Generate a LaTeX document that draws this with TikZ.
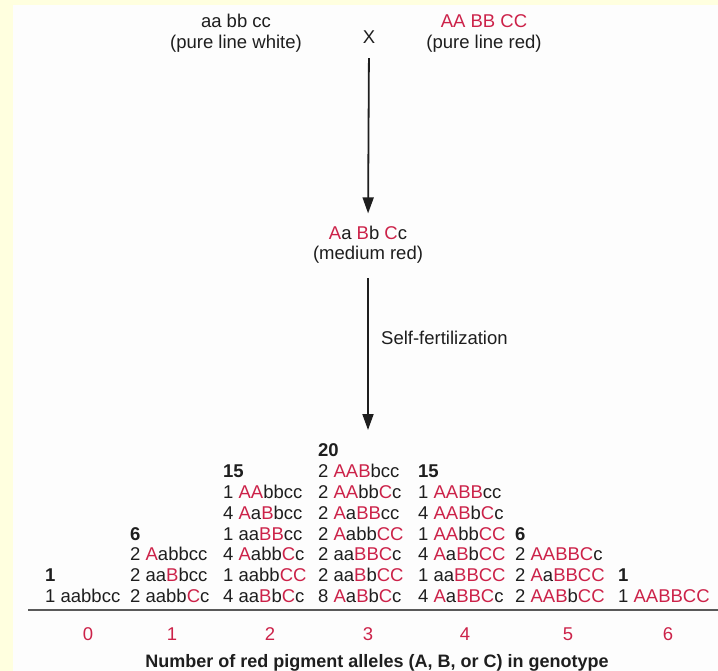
\documentclass[tikz,border=0pt]{standalone}
\usepackage{fontspec}
\setmainfont{Liberation Sans}
\usetikzlibrary{arrows.meta}
\definecolor{gred}{HTML}{CC2249}
\definecolor{ink}{HTML}{1E1E1E}
\definecolor{paleyellow}{HTML}{FFFFDF}
\definecolor{panel}{HTML}{FDFDFD}
\newcommand{\rd}[1]{\textcolor{gred}{#1}}
\begin{document}
\begin{tikzpicture}[x=1pt,y=-1pt,
  every node/.style={inner sep=0pt, text=ink, font=\fontsize{18.5}{21}\selectfont},
  geno/.style={anchor=base west},
  tot/.style={anchor=base west, font=\fontsize{18.5}{21}\selectfont\bfseries},
  cls/.style={anchor=base, text=gred},
  arr/.style={draw=ink, line width=1.8pt, -{Triangle[length=16pt,width=11pt]}}]
\useasboundingbox (0,0) rectangle (718,671);
\fill[paleyellow] (0,0) rectangle (718,671);
\fill[panel] (13,5) rectangle (718,671);
% top cross
\node[anchor=base] (w1) at (236,28) {aa bb cc};
\node[anchor=base] (w2) at (236,49) {(pure line white)};
\node[anchor=base] (X) at (369,44) {X};
\node[anchor=base, text=gred] (r1) at (484,28) {AA BB CC};
\node[anchor=base] (r2) at (484,49) {(pure line red)};
\node[anchor=base] (f1) at (368,240) {\rd{A}a \rd{B}b \rd{C}c};
\node[anchor=base] (f2) at (368,260) {(medium red)};
\node[anchor=base west] (self) at (381,344) {Self-fertilization};
\draw[arr, shorten <=14pt, shorten >=13pt] (X.south) -- (f1.north);
\coordinate (a2end) at (368,430);
\draw[arr, shorten <=14pt] (f2.south) -- (a2end);
% table: baselines
\def\ya{602.5}\def\yb{581.7}\def\yc{560.9}\def\yd{540.1}\def\ye{519.3}\def\yf{498.5}\def\yg{477.7}\def\yh{456.9}
% column 0
\node[tot] (t0) at (45,\yb) {1};
\node[geno] (g00) at (45,\ya) {1 aabbcc};
% column 1
\node[tot] (t1) at (130,\yd) {6};
\node[geno] (g12) at (130,\yc) {2 \rd{A}abbcc};
\node[geno] (g11) at (130,\yb) {2 aa\rd{B}bcc};
\node[geno] (g10) at (130,\ya) {2 aabb\rd{C}c};
% column 2
\node[tot] (t2) at (223,\yg) {15};
\node[geno] (g25) at (223,\yf) {1 \rd{AA}bbcc};
\node[geno] (g24) at (223,\ye) {4 \rd{A}a\rd{B}bcc};
\node[geno] (g23) at (223,\yd) {1 aa\rd{BB}cc};
\node[geno] (g22) at (223,\yc) {4 \rd{A}abb\rd{C}c};
\node[geno] (g21) at (223,\yb) {1 aabb\rd{CC}};
\node[geno] (g20) at (223,\ya) {4 aa\rd{B}b\rd{C}c};
% column 3
\node[tot] (t3) at (318,\yh) {20};
\node[geno] (g36) at (318,\yg) {2 \rd{AAB}bcc};
\node[geno] (g35) at (318,\yf) {2 \rd{AA}bb\rd{C}c};
\node[geno] (g34) at (318,\ye) {2 \rd{A}a\rd{BB}cc};
\node[geno] (g33) at (318,\yd) {2 \rd{A}abb\rd{CC}};
\node[geno] (g32) at (318,\yc) {2 aa\rd{BBC}c};
\node[geno] (g31) at (318,\yb) {2 aa\rd{B}b\rd{CC}};
\node[geno] (g30) at (318,\ya) {8 \rd{A}a\rd{B}b\rd{C}c};
% column 4
\node[tot] (t4) at (418,\yg) {15};
\node[geno] (g45) at (418,\yf) {1 \rd{AABB}cc};
\node[geno] (g44) at (418,\ye) {4 \rd{AAB}b\rd{C}c};
\node[geno] (g43) at (418,\yd) {1 \rd{AA}bb\rd{CC}};
\node[geno] (g42) at (418,\yc) {4 \rd{A}a\rd{B}b\rd{CC}};
\node[geno] (g41) at (418,\yb) {1 aa\rd{BBCC}};
\node[geno] (g40) at (418,\ya) {4 \rd{A}a\rd{BBC}c};
% column 5
\node[tot] (t5) at (515,\yd) {6};
\node[geno] (g52) at (515,\yc) {2 \rd{AABBC}c};
\node[geno] (g51) at (515,\yb) {2 \rd{A}a\rd{BBCC}};
\node[geno] (g50) at (515,\ya) {2 \rd{AAB}b\rd{CC}};
% column 6
\node[tot] (t6) at (618,\yb) {1};
\node[geno] (g60) at (618,\ya) {1 \rd{AABBCC}};
% rule
\draw[line width=2pt, draw=black!65] (28,610) -- (718,610);
% class numbers
\node[cls] (n0) at (88,640) {0};
\node[cls] (n1) at (172,640) {1};
\node[cls] (n2) at (270,640) {2};
\node[cls] (n3) at (368,640) {3};
\node[cls] (n4) at (465,640) {4};
\node[cls] (n5) at (568,640) {5};
\node[cls] (n6) at (668,640) {6};
\node[anchor=base, font=\fontsize{18}{21}\selectfont\bfseries] (cap) at (377,667) {Number of red pigment alleles (A, B, or C) in genotype};
\end{tikzpicture}
\end{document}
